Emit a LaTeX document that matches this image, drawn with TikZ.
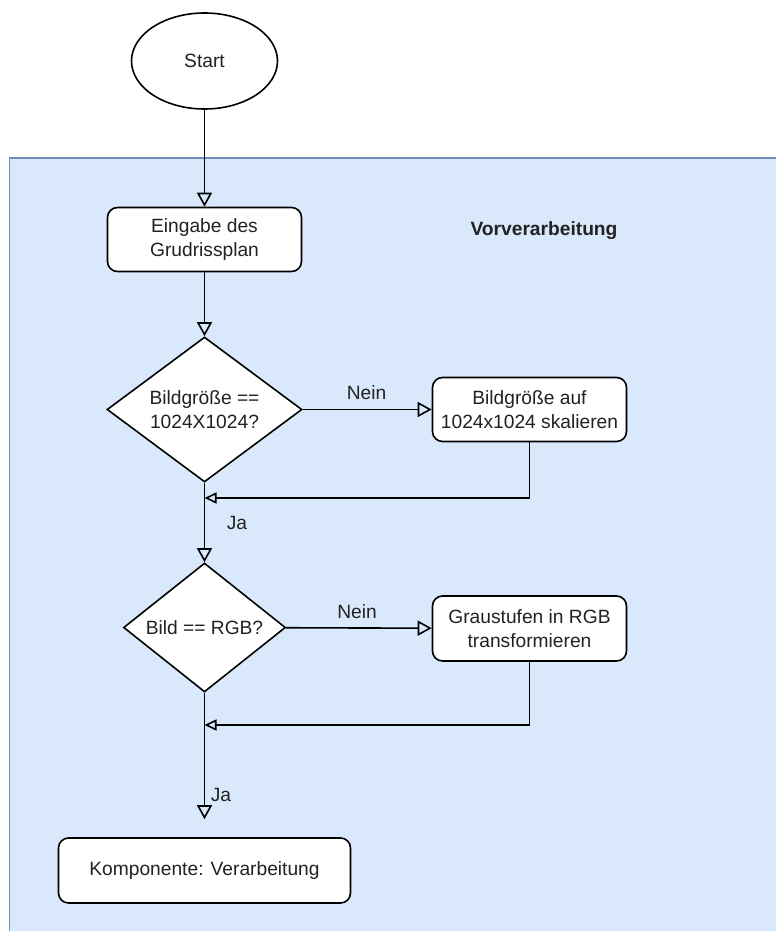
\documentclass[tikz,border=0pt]{standalone}
\usepackage{fontspec}
\setmainfont{Liberation Sans}
\usetikzlibrary{shapes.geometric,arrows.meta}
\definecolor{txt}{HTML}{222222}
\definecolor{lanefill}{HTML}{DAE8FC}
\definecolor{laneline}{HTML}{6C8EBF}
\begin{document}
\begin{tikzpicture}[x=1pt,y=-1pt,
  font=\fontsize{19.2}{23.5}\selectfont,
  proc/.style={draw=black, fill=white, rounded corners=10pt, line width=1.6pt,
    minimum width=194pt, minimum height=64pt, align=center, inner sep=0pt, text=txt},
  dec/.style={diamond, draw=black, fill=white, line width=1.6pt, inner sep=0pt,
    align=center, text=txt},
  flow/.style={draw=black, line width=1.6pt, -{Triangle[open,length=14pt,width=15pt]}},
  mergeflow/.style={draw=black, line width=1.6pt, -{Triangle[open,length=12pt,width=11pt]}},
  lbl/.style={text=txt, inner sep=0pt}]
\useasboundingbox (0,0) rectangle (776,931);

% preprocessing lane
\fill[lanefill] (9.5,158) rectangle (776,931);
\draw[laneline, line width=1.6pt] (776,158) -- (9.5,158) -- (9.5,931);
\node[lbl, font=\fontsize{19.2}{23.5}\selectfont\bfseries] (lane) at (544,231) {Vorverarbeitung};

% nodes
\node[ellipse, draw=black, fill=white, line width=1.6pt, inner sep=0pt,
  minimum width=146pt, minimum height=96pt, text=txt] (start) at (204.5,61) {Start};
\node[proc] (input) at (204.5,239.5) {Eingabe des\\Grudrissplan};
\node[dec, minimum width=195pt, minimum height=145pt, aspect=1.34] (size) at (204.5,409.5)
  {Bildgröße ==\\1024X1024?};
\node[proc] (scale) at (529.5,409.5) {Bildgröße auf\\1024x1024 skalieren};
\node[dec, minimum width=162pt, minimum height=129pt, aspect=1.26] (rgb) at (204.5,627.5)
  {Bild == RGB?};
\node[proc, minimum height=65pt] (gray) at (529.5,628.5) {Graustufen in RGB\\transformieren};
\node[proc, minimum width=292pt, minimum height=65pt] (proc) at (204.5,870.5)
  {Komponente: Verarbeitung};

\coordinate (m1) at (204.5,498);
\coordinate (m2) at (204.5,725);

% connectors
\draw[flow] (start) -- (input);
\draw[flow] (input) -- (size);
\draw[flow] (size) -- (scale);
\draw[mergeflow] (scale.south) |- (m1);
\draw[flow] (size) -- (rgb);
\draw[flow] (rgb) -- (gray);
\draw[mergeflow] (gray.south) |- (m2);
\draw[flow, shorten >=18pt] (rgb) -- (proc);

% edge labels
\node[lbl] (nein1) at (366.5,393) {Nein};
\node[lbl] (ja1) at (237,523) {Ja};
\node[lbl] (nein2) at (357,612) {Nein};
\node[lbl] (ja2) at (221,795) {Ja};
\end{tikzpicture}
\end{document}
